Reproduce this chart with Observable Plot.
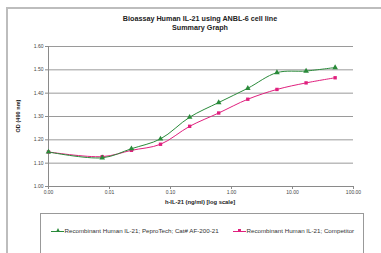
<!DOCTYPE html>
<html><head><meta charset="utf-8">
<script src="https://cdn.jsdelivr.net/npm/d3@7"></script>
<script src="https://cdn.jsdelivr.net/npm/@observablehq/plot@0.6"></script>
<style>
html,body{margin:0;padding:0;background:#fff;}
#wrap{position:relative;width:381px;height:253px;overflow:hidden;font-family:"Liberation Sans",Arial,sans-serif;}
.abs{position:absolute;}
#frame{left:6px;top:7px;width:420px;height:300px;box-sizing:border-box;border-left:2px solid #bdbdbd;border-top:2px solid #bdbdbd;z-index:5;pointer-events:none;}
#title{left:0;width:400px;top:14px;text-align:center;font-weight:bold;font-size:7.2px;line-height:9px;color:#222;}
#xlabel{left:0;width:400px;top:199px;text-align:center;font-weight:bold;font-size:5.8px;color:#222;}
#ylabel{left:18px;top:116px;transform:translate(-50%,-50%) rotate(-90deg);font-weight:bold;font-size:5.6px;color:#222;white-space:nowrap;}
#legend{left:40px;top:213px;width:322px;height:50px;border:1px solid #999;background:#fff;}
.item{position:absolute;top:13px;font-size:6.2px;color:#333;white-space:nowrap;display:flex;align-items:center;}
.sw{position:relative;width:13px;height:6px;margin-right:0.5px;}
.sw .ln{position:absolute;left:0;right:0;top:3px;height:1px;}
</style></head><body>
<div id="wrap">
<div id="chart" class="abs" style="left:0;top:0"></div>
<div id="title" class="abs">Bioassay Human IL-21 using ANBL-6 cell line<br>Summary Graph</div>
<div id="xlabel" class="abs">h-IL-21 (ng/ml) [log scale]</div>
<div id="ylabel" class="abs">OD (490 nm)</div>
<div id="legend" class="abs"></div>
<div id="frame" class="abs"></div>
</div>
<script>
const concentrations = [0.001, 0.0076, 0.0229, 0.0686, 0.206, 0.617, 1.85, 5.56, 16.7, 50];
const peprotechOD = [1.148, 1.123, 1.162, 1.204, 1.297, 1.360, 1.421, 1.488, 1.495, 1.510];
const competitorOD = [1.148, 1.128, 1.155, 1.181, 1.258, 1.315, 1.374, 1.416, 1.444, 1.466];
const seriesNames = ["Recombinant Human IL-21; PeproTech; Cat# AF-200-21", "Recombinant Human IL-21; Competitor"];
const seriesColors = ["#2a8a3a", "#e0207e"];
const xTicks = [0.001, 0.01, 0.1, 1, 10, 100];
const yTicks = [1.0, 1.1, 1.2, 1.3, 1.4, 1.5, 1.6];

const s1 = concentrations.map((c, i) => ({x: c, y: peprotechOD[i]}));
const s2 = concentrations.map((c, i) => ({x: c, y: competitorOD[i]}));

const chart = Plot.plot({
  width: 381, height: 253,
  marginLeft: 48, marginRight: 28, marginTop: 46, marginBottom: 67,
  style: {fontFamily: "Liberation Sans, Arial, sans-serif", background: "transparent"},
  x: {type: "log", domain: [0.001, 100]},
  y: {domain: [1.0, 1.6]},
  marks: [
    Plot.ruleY(yTicks.slice(1), {stroke: "#9a9a9a", strokeWidth: 1}),
    Plot.ruleX([0.001], {stroke: "#8a8a8a", strokeWidth: 1}),
    Plot.ruleY([1.0], {stroke: "#8a8a8a", strokeWidth: 1}),
    Plot.axisY(yTicks, {tickSize: 3, tickPadding: 2, stroke: "#8a8a8a", tickFormat: d => d.toFixed(2), fontSize: 5, fill: "#444", label: null}),
    Plot.axisX(xTicks, {tickSize: 3, tickPadding: 1, stroke: "#8a8a8a", tickFormat: d => d.toFixed(2), fontSize: 5, fill: "#444", label: null}),
    Plot.line(s2, {x: "x", y: "y", stroke: seriesColors[1], strokeWidth: 1, curve: "catmull-rom"}),
    Plot.line(s1, {x: "x", y: "y", stroke: seriesColors[0], strokeWidth: 1, curve: "catmull-rom"}),
    Plot.dot(s2, {x: "x", y: "y", symbol: "square", r: 1.9, fill: seriesColors[1], stroke: "none"}),
    Plot.dot(s1, {x: "x", y: "y", symbol: "triangle", r: 2.1, fill: seriesColors[0], stroke: "none"})
  ]
});
document.getElementById("chart").appendChild(chart);

const leg = document.getElementById("legend");
const lefts = [10, 192];
const markers = ["triangle", "square"];
seriesNames.forEach((n, i) => {
  const it = document.createElement("div");
  it.className = "item";
  it.style.left = lefts[i] + "px";
  const mk = markers[i] === "triangle"
    ? `<div style="position:absolute;left:4.5px;top:0.5px;width:0;height:0;border-left:2.2px solid transparent;border-right:2.2px solid transparent;border-bottom:4px solid ${seriesColors[i]}"></div>`
    : `<div style="position:absolute;left:4.7px;top:1.2px;width:3.6px;height:3.6px;background:${seriesColors[i]}"></div>`;
  it.innerHTML = `<div class="sw"><div class="ln" style="background:${seriesColors[i]}"></div>${mk}</div><span>${n}</span>`;
  leg.appendChild(it);
});
</script>
</body></html>
